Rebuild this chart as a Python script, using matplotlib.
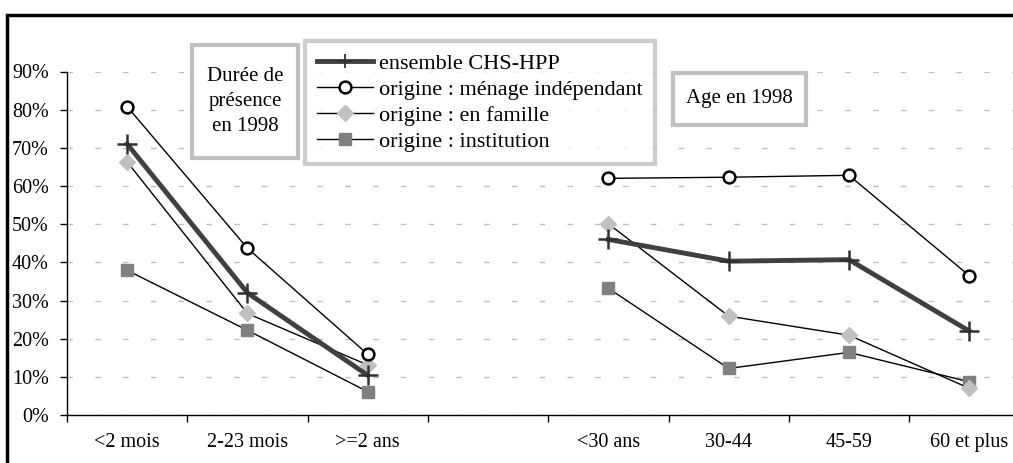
import numpy as np
import matplotlib.pyplot as plt
from matplotlib.patches import Rectangle
from matplotlib.ticker import FuncFormatter

plt.rcParams['font.family'] = ['Liberation Serif', 'DejaVu Serif']

categories = ['<2 mois', '2-23 mois', '>=2 ans', '', '<30 ans', '30-44', '45-59', '60 et plus']
nan = np.nan
ensemble = [71.0, 32.0, 10.4, nan, 46.0, 40.3, 40.7, 22.0]
menage = [80.8, 43.7, 15.9, nan, 62.0, 62.3, 62.8, 36.5]
famille = [66.3, 26.6, 13.1, nan, 50.1, 25.9, 20.9, 7.0]
institution = [37.9, 22.2, 6.1, nan, 33.2, 12.2, 16.4, 8.7]

W, H = 1013, 463
fig = plt.figure(figsize=(W / 100, H / 100), dpi=100)


def fx(px):
    return px / W


def fy(py):
    return 1 - py / H


# axes: 0% at y=415, 90% at y=71.5, category width ~120.3 px
ax = fig.add_axes([fx(67), fy(415), fx(8 * 120.3), (415 - 71.5) / H])
x = np.arange(len(categories))

ax.plot(x, institution, color='black', lw=1, marker='s', ms=9,
        mfc='#808080', mec='#808080', label='origine : institution', zorder=3)
ax.plot(x, famille, color='black', lw=1, marker='D', ms=8,
        mfc='#c0c0c0', mec='#c0c0c0', label='origine : en famille', zorder=3)
ax.plot(x, menage, color='black', lw=1, marker='o', ms=8.5,
        mfc='white', mec='black', mew=1.8, label='origine : ménage indépendant', zorder=4)
ax.plot(x, ensemble, color='#404040', lw=3.5, marker='+', ms=14, mew=1.8,
        mec='#303030', label='ensemble CHS-HPP', zorder=5)

ax.set_xlim(-0.5, len(categories) - 0.5)
ax.set_ylim(0, 90)
ax.set_yticks(np.arange(0, 91, 10))
ax.yaxis.set_major_formatter(FuncFormatter(lambda v, p: '%d%%' % v))
ax.set_xticks(x)
ax.set_xticklabels(categories)
ax.set_xticks(np.arange(-0.5, len(categories), 1), minor=True)
ax.tick_params(axis='x', which='major', length=0, pad=13, labelsize=14.5)
ax.tick_params(axis='x', which='minor', length=5, direction='out', width=1)
ax.tick_params(axis='y', length=5, direction='out', pad=8, labelsize=14.5, width=1)
ax.yaxis.grid(True, color='#c0c0c0', lw=1, ls=(0, (4, 16)))
ax.set_axisbelow(True)
for s in ['top', 'right']:
    ax.spines[s].set_visible(False)
for s in ['left', 'bottom']:
    ax.spines[s].set_linewidth(1)

# outer frame (cropped at right and bottom)
fig.add_artist(Rectangle((fx(7), fy(480)), fx(1100), (480 - 15) / H,
                         transform=fig.transFigure, fill=False, ec='black', lw=2.5, zorder=10))


# text boxes
def box(x0, y0, x1, y1, text, ls=1.4):
    fig.add_artist(Rectangle((fx(x0), fy(y1)), fx(x1 - x0), (y1 - y0) / H,
                             transform=fig.transFigure, fc='white', ec='#c0c0c0', lw=3, zorder=6))
    fig.text(fx((x0 + x1) / 2), fy((y0 + y1) / 2), text, ha='center', va='center',
             fontsize=15, linespacing=ls, zorder=7)


box(192, 45, 298, 158, 'Durée de\nprésence\nen 1998')
box(673, 73, 806, 125, 'Age en 1998')

handles, labels = ax.get_legend_handles_labels()
order = [3, 2, 1, 0]
leg = fig.legend([handles[i] for i in order], [labels[i] for i in order],
                 loc='upper left', bbox_to_anchor=(fx(305), fy(41)),
                 fontsize=16, frameon=True, fancybox=False, handlelength=2.5,
                 handletextpad=0.3, labelspacing=0.25, borderpad=0.55,
                 borderaxespad=0, numpoints=1)
leg.get_frame().set_edgecolor('#c0c0c0')
leg.get_frame().set_linewidth(3)
leg.set_zorder(8)
leg.legend_handles[0].set_markersize(10)
leg.legend_handles[0].set_markeredgewidth(1.3)

fig.savefig('out.png', dpi=100)
